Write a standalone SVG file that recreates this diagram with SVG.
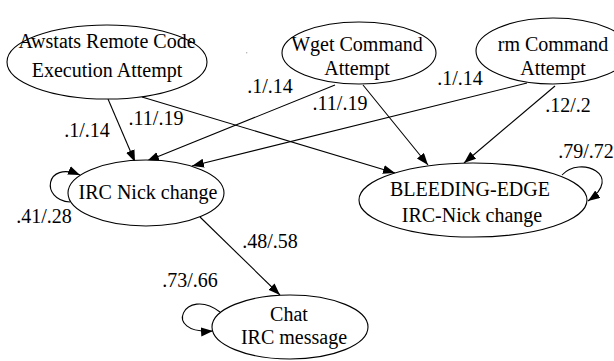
<svg xmlns="http://www.w3.org/2000/svg" width="614" height="361" viewBox="0 0 614 361" font-family="'Liberation Serif', 'Times New Roman', Times, serif">
<defs>
<style>
.node ellipse{fill:#fff;stroke:#000;stroke-width:1.1}
text{font-family:'Liberation Serif','Times New Roman',Times,serif;font-size:20px;fill:#000;text-anchor:middle}
.edges path{fill:none;stroke:#000;stroke-width:1.1;marker-end:url(#ah)}
</style>
<marker id="ah" markerUnits="userSpaceOnUse" markerWidth="14" markerHeight="10" refX="12" refY="4.5" orient="auto">
<path d="M0,0 L12,4.5 L0,9 z" fill="#000"/>
</marker>
</defs>
<rect width="614" height="361" fill="#fff"/>
<circle cx="246.7" cy="52.7" r="0.7" fill="#aaa"/>
<g class="edges" id="connectors">
<path d="M108,99 L135,162"/>
<path d="M142,97 L395,173"/>
<path d="M335,85 L147,161"/>
<path d="M363,85 L428,165"/>
<path d="M527,83 L192,166"/>
<path d="M555,86 L464,163"/>
<path d="M200,217 L280,295"/>
<path d="M70,202 C40,200 45,160 80,175"/>
<path d="M562,175 C580,155 625,175 588,201"/>
<path d="M220,312 C185,285 160,335 213,331"/>
</g>
<g id="edge-labels">
<text x="87" y="137">.1/.14</text>
<text x="156" y="125">.11/.19</text>
<text x="270" y="93">.1/.14</text>
<text x="340" y="110">.11/.19</text>
<text x="460" y="85">.1/.14</text>
<text x="568" y="112">.12/.2</text>
<text x="586" y="158">.79/.72</text>
<text x="44" y="223">.41/.28</text>
<text x="270" y="248">.48/.58</text>
<text x="190" y="287">.73/.66</text>
</g>
<g class="node" id="awstats">
<ellipse cx="107" cy="62" rx="100" ry="37"/>
<text x="107" y="47.5">Awstats Remote Code</text>
<text x="107" y="76.5">Execution Attempt</text>
</g>
<g class="node" id="wget">
<ellipse cx="359" cy="53" rx="77" ry="31"/>
<text x="357" y="51">Wget Command</text>
<text x="357" y="75">Attempt</text>
</g>
<g class="node" id="rm">
<ellipse cx="553" cy="51" rx="77" ry="33"/>
<text x="553" y="51">rm Command</text>
<text x="553" y="75">Attempt</text>
</g>
<g class="node" id="ircnick">
<ellipse cx="146" cy="193" rx="78" ry="33"/>
<text x="148" y="199">IRC Nick change</text>
</g>
<g class="node" id="bleeding">
<ellipse cx="473" cy="200" rx="114" ry="37"/>
<text x="470" y="195.5">BLEEDING-EDGE</text>
<text x="472" y="222">IRC-Nick change</text>
</g>
<g class="node" id="chat">
<ellipse cx="290" cy="327" rx="78" ry="32"/>
<text x="289" y="320.5">Chat</text>
<text x="294" y="344">IRC message</text>
</g>
</svg>
